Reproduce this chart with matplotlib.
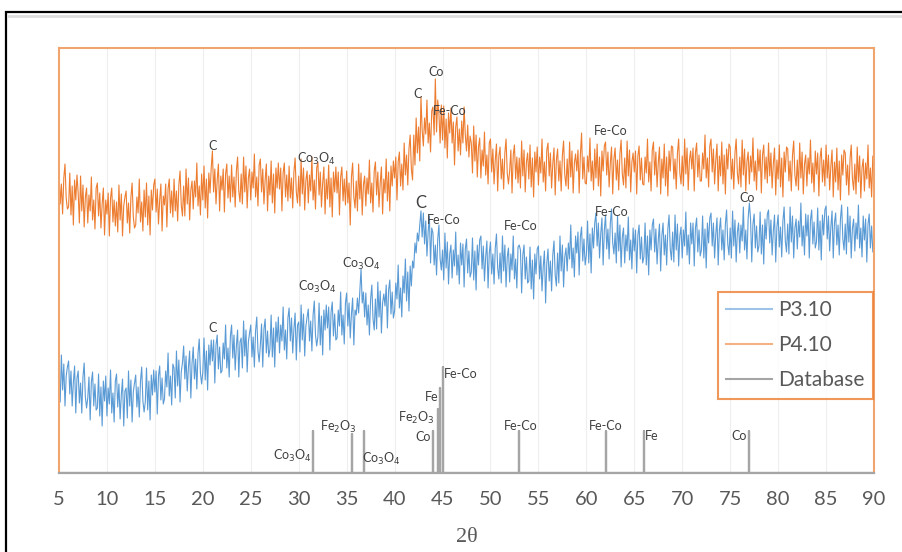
import numpy as np
import matplotlib.pyplot as plt
from matplotlib.lines import Line2D
from matplotlib.patches import Rectangle

# 2theta grid: 5 .. 90 deg, step 0.125
two_theta = np.arange(5, 90.001, 0.125)

# P4.10 (orange), arbitrary units, 8 readings per degree (one row per degree)
p410 = [
    301, 269, 289, 259, 295, 309, 275, 264,   # 5
    266, 300, 258, 287, 248, 293, 273, 298,
    280, 250, 297, 262, 288, 246, 276, 285,
    250, 278, 262, 296, 253, 273, 244, 285,
    290, 257, 280, 245, 269, 285, 238, 273,
    259, 280, 237, 275, 285, 251, 273, 247,   # 10
    271, 241, 288, 253, 279, 237, 267, 276,
    282, 250, 270, 240, 276, 290, 256, 245,
    248, 276, 260, 294, 251, 271, 242, 283,
    256, 290, 248, 277, 238, 283, 263, 288,
    294, 261, 284, 249, 273, 289, 242, 277,   # 15
    268, 289, 246, 284, 294, 260, 282, 256,
    294, 262, 282, 252, 288, 302, 268, 257,
    287, 257, 304, 269, 295, 253, 283, 292,
    264, 292, 276, 310, 267, 287, 258, 299,
    273, 307, 265, 294, 255, 300, 280, 305,   # 20
    322, 281, 304, 269, 293, 309, 262, 297,
    283, 304, 261, 299, 309, 275, 297, 271,
    308, 276, 296, 266, 302, 316, 282, 271,
    299, 269, 316, 281, 307, 265, 295, 304,
    273, 301, 285, 319, 276, 296, 267, 308,   # 25
    314, 281, 304, 269, 293, 309, 262, 297,
    278, 312, 270, 299, 260, 305, 285, 310,
    284, 305, 262, 300, 310, 276, 298, 272,
    307, 275, 295, 265, 301, 315, 281, 270,
    297, 267, 314, 279, 305, 263, 293, 302,   # 30
    270, 298, 282, 316, 273, 293, 264, 305,
    311, 278, 301, 266, 290, 306, 259, 294,
    274, 308, 266, 295, 256, 301, 281, 306,
    280, 301, 258, 296, 306, 272, 294, 268,
    302, 270, 290, 248, 296, 310, 276, 265,   # 35
    292, 262, 309, 274, 300, 258, 288, 297,
    267, 295, 279, 313, 270, 290, 261, 302,
    311, 278, 301, 266, 290, 306, 259, 294,
    280, 314, 272, 301, 262, 307, 287, 312,
    295, 316, 273, 311, 321, 287, 309, 283,   # 40
    330, 298, 318, 288, 324, 338, 304, 293,
    338, 308, 355, 320, 346, 312, 376, 343,
    327, 355, 339, 373, 330, 350, 321, 362,
    366, 338, 394, 341, 373, 359, 330, 368,
    333, 367, 325, 354, 315, 360, 340, 365,   # 45
    330, 351, 308, 346, 356, 322, 344, 318,
    352, 330, 366, 338, 322, 348, 316, 337,
    330, 300, 347, 312, 338, 296, 326, 335,
    295, 323, 307, 341, 298, 318, 289, 330,
    334, 301, 324, 289, 313, 329, 282, 317,   # 50
    326, 294, 314, 284, 320, 334, 300, 289,
    302, 323, 280, 318, 328, 294, 316, 290,
    315, 285, 332, 297, 323, 281, 311, 320,
    294, 328, 286, 315, 276, 321, 301, 326,
    288, 316, 300, 334, 291, 311, 282, 323,   # 55
    330, 297, 320, 285, 309, 325, 278, 313,
    324, 292, 312, 282, 318, 332, 298, 287,
    314, 284, 331, 296, 322, 280, 310, 319,
    302, 323, 280, 318, 340, 294, 316, 290,
    289, 317, 301, 335, 292, 312, 283, 324,   # 60
    295, 329, 287, 316, 277, 322, 302, 327,
    331, 298, 321, 286, 310, 326, 279, 314,
    325, 293, 313, 283, 319, 333, 299, 288,
    315, 285, 332, 297, 323, 281, 311, 320,
    301, 322, 279, 317, 327, 293, 315, 289,   # 65
    288, 316, 300, 334, 291, 311, 282, 323,
    331, 298, 321, 286, 310, 326, 279, 314,
    295, 329, 287, 316, 277, 322, 302, 327,
    326, 294, 314, 284, 320, 334, 300, 289,
    317, 287, 334, 299, 325, 283, 313, 322,   # 70
    304, 325, 282, 320, 330, 296, 318, 292,
    292, 320, 304, 338, 295, 315, 286, 327,
    334, 301, 324, 289, 313, 329, 282, 317,
    297, 331, 289, 318, 279, 324, 304, 329,
    326, 294, 314, 284, 320, 334, 300, 289,   # 75
    316, 286, 333, 298, 324, 282, 312, 321,
    289, 317, 301, 335, 292, 312, 283, 324,
    302, 323, 280, 318, 328, 294, 316, 290,
    330, 297, 320, 285, 309, 325, 278, 313,
    294, 328, 286, 315, 276, 321, 301, 326,   # 80
    324, 292, 312, 282, 318, 332, 298, 287,
    313, 283, 330, 295, 321, 279, 309, 318,
    287, 315, 299, 333, 290, 310, 281, 322,
    299, 320, 277, 315, 325, 291, 313, 287,
    328, 295, 318, 283, 307, 323, 276, 311,   # 85
    291, 325, 283, 312, 273, 318, 298, 323,
    320, 288, 308, 278, 314, 328, 294, 283,
    309, 279, 326, 291, 317, 275, 305, 314,
    282, 310, 294, 328, 285, 305, 276, 317,
    296,                                      # 90
]

# P3.10 (blue)
p310 = [
    101, 71, 118, 83, 109, 67, 97, 106,        # 5
    112, 79, 102, 67, 91, 107, 60, 95,
    102, 70, 90, 60, 96, 110, 76, 65,
    75, 96, 53, 91, 101, 67, 89, 63,
    65, 99, 57, 86, 47, 92, 72, 97,
    57, 85, 69, 103, 60, 80, 51, 92,           # 10
    99, 66, 89, 54, 78, 94, 47, 82,
    85, 55, 102, 67, 93, 51, 81, 90,
    98, 66, 86, 56, 92, 106, 72, 61,
    71, 105, 63, 92, 53, 98, 78, 103,
    81, 102, 59, 97, 107, 73, 95, 69,          # 15
    74, 102, 86, 120, 77, 97, 68, 109,
    105, 75, 122, 87, 113, 71, 101, 110,
    127, 94, 117, 82, 106, 122, 75, 110,
    126, 94, 114, 84, 120, 134, 100, 89,
    101, 135, 93, 122, 83, 128, 108, 133,      # 20
    112, 133, 90, 128, 138, 104, 126, 100,
    102, 130, 114, 148, 105, 125, 96, 137,
    148, 115, 138, 103, 127, 143, 96, 131,
    135, 105, 152, 117, 143, 101, 131, 140,
    148, 116, 136, 106, 142, 156, 122, 111,    # 25
    128, 149, 106, 144, 154, 120, 142, 116,
    124, 158, 116, 145, 106, 151, 131, 156,
    120, 148, 132, 166, 123, 143, 114, 155,
    165, 132, 155, 120, 144, 160, 113, 148,
    151, 121, 168, 133, 159, 117, 147, 156,    # 30
    164, 132, 152, 122, 158, 172, 138, 127,
    136, 170, 128, 157, 118, 163, 143, 168,
    145, 166, 123, 161, 171, 137, 159, 133,
    135, 163, 147, 181, 138, 158, 129, 170,
    180, 147, 170, 135, 159, 175, 128, 163,    # 35
    158, 175, 160, 182, 204, 170, 181, 156,
    180, 148, 168, 138, 174, 188, 154, 143,
    174, 144, 191, 156, 182, 140, 170, 179,
    167, 188, 145, 183, 193, 159, 181, 155,
    162, 190, 174, 208, 165, 185, 156, 197,    # 40
    180, 214, 172, 201, 162, 207, 187, 212,
    205, 230, 220, 240, 232, 248, 262, 236,
    260, 229, 252, 217, 241, 257, 210, 245,
    240, 208, 228, 198, 234, 248, 214, 203,
    223, 193, 240, 205, 231, 189, 219, 228,    # 45
    195, 223, 207, 241, 198, 218, 189, 230,
    208, 229, 186, 224, 234, 200, 222, 196,
    201, 235, 193, 222, 183, 228, 208, 233,
    237, 204, 227, 192, 216, 232, 185, 220,
    231, 199, 219, 189, 225, 239, 205, 194,    # 50
    220, 190, 237, 202, 228, 186, 216, 225,
    191, 219, 203, 237, 194, 214, 185, 226,
    228, 223, 180, 218, 228, 194, 216, 190,
    192, 226, 184, 213, 174, 219, 199, 224,
    227, 194, 217, 182, 206, 222, 170, 210,    # 55
    224, 192, 212, 182, 218, 232, 198, 187,
    220, 190, 237, 202, 228, 186, 216, 225,
    202, 230, 214, 248, 205, 225, 196, 237,
    220, 241, 198, 236, 246, 212, 234, 208,
    218, 252, 210, 239, 200, 245, 225, 250,    # 60
    260, 227, 250, 215, 239, 255, 208, 243,
    258, 224, 244, 214, 250, 264, 230, 219,
    240, 210, 257, 222, 248, 206, 236, 245,
    210, 238, 222, 256, 213, 233, 204, 245,
    222, 243, 200, 238, 248, 214, 236, 210,    # 65
    216, 250, 208, 237, 198, 243, 223, 248,
    254, 221, 244, 209, 233, 249, 202, 237,
    250, 218, 238, 208, 244, 258, 224, 213,
    241, 211, 258, 223, 249, 207, 237, 246,
    215, 243, 227, 261, 218, 238, 209, 250,    # 70
    229, 250, 207, 245, 255, 221, 243, 217,
    223, 257, 215, 244, 205, 250, 230, 255,
    260, 227, 250, 215, 239, 255, 208, 243,
    255, 223, 243, 213, 249, 263, 229, 218,
    245, 215, 262, 227, 253, 211, 241, 250,    # 75
    220, 248, 232, 266, 223, 243, 214, 255,
    270, 254, 211, 249, 259, 225, 247, 221,
    227, 261, 219, 248, 209, 254, 234, 259,
    263, 230, 253, 218, 242, 258, 211, 246,
    258, 226, 246, 216, 252, 266, 232, 221,    # 80
    249, 219, 266, 231, 257, 215, 245, 254,
    224, 252, 236, 270, 227, 247, 218, 259,
    237, 258, 215, 253, 263, 229, 251, 225,
    231, 265, 223, 252, 213, 258, 238, 263,
    267, 234, 257, 222, 246, 262, 215, 250,    # 85
    260, 228, 248, 218, 254, 268, 234, 223,
    249, 219, 266, 231, 257, 215, 245, 254,
    222, 250, 234, 268, 225, 245, 216, 257,
    233, 254, 211, 249, 259, 225, 247, 221,
    236,                                       # 90
]

# database reference peaks
db_pos = [31.5, 35.6, 36.8, 44.0, 44.5, 44.75, 45.0, 53.0, 62.0, 66.0, 77.0]
db_int = [42, 39, 42, 42, 64, 85, 106, 42, 42, 42, 42]

# stick lines as one series
db_x = [5]
db_y = [0]
for p, h in zip(db_pos, db_int):
    db_x += [p, p, p]
    db_y += [0, h, 0]
db_x.append(90)
db_y.append(0)

lab_orange = [("C", 21.0, 327), ("Co$_3$O$_4$", 31.8, 314), ("C", 42.4, 379),
              ("Co", 44.3, 401), ("Fe-Co", 45.7, 362), ("Fe-Co", 62.5, 342)]
lab_blue = [("Fe-Co", 45.15, 253), ("Co$_3$O$_4$", 36.5, 209),
            ("Co$_3$O$_4$", 31.9, 186), ("C", 21.05, 145), ("Fe-Co", 53.15, 247),
            ("Fe-Co", 62.6, 261), ("Co", 76.8, 275)]
lab_db = [("Co$_3$O$_4$", 29.3, 17), ("Fe$_2$O$_3$", 34.1, 46), ("Co$_3$O$_4$", 38.65, 14),
          ("Co", 42.95, 36), ("Fe$_2$O$_3$", 42.25, 55), ("Fe", 43.9, 76),
          ("Fe-Co", 46.9, 99), ("Fe-Co", 53.1, 47), ("Fe-Co", 62.05, 47),
          ("Fe", 66.85, 37), ("Co", 75.95, 37)]

BLUE = '#5B9BD5'
ORANGE = '#ED7D31'
GREY = '#A5A5A5'

plt.rcParams['font.family'] = ['Lato', 'DejaVu Sans']

fig = plt.figure(figsize=(9.03, 5.52), dpi=100)
ax = fig.add_axes([59/903, 79/552, 815/903, 425/552])

ax.plot(two_theta, p310, color=BLUE, lw=0.8)
ax.plot(two_theta, p410, color=ORANGE, lw=0.8)
ax.plot(db_x, db_y, color=GREY, lw=1.6)

ax.set_xlim(5, 90)
ax.set_ylim(0, 425)
ax.set_xticks(np.arange(5, 91, 5))
ax.set_yticks([])
ax.grid(axis='x', color='#EEEEEE', lw=0.8)
ax.set_axisbelow(True)
ax.tick_params(axis='x', length=0, pad=13, labelsize=14.5, labelcolor='#595959')

for s in ['left', 'top', 'right']:
    ax.spines[s].set_color('#F0A56E')
    ax.spines[s].set_linewidth(1.5)
ax.spines['bottom'].set_color(GREY)
ax.spines['bottom'].set_linewidth(1.6)

for t, x, y in lab_orange + lab_blue:
    ax.text(x, y, t, ha='center', va='center', fontsize=9, color='#404040')
ax.text(42.76, 270, "C", ha='center', va='center', fontsize=12, color='#404040')
for t, x, y in lab_db:
    ax.text(x, y, t, ha='center', va='center', fontsize=9, color='#404040')

handles = [Line2D([], [], color='#9DC3E6', lw=1.5),
           Line2D([], [], color='#F4B183', lw=1.5),
           Line2D([], [], color=GREY, lw=1.5)]
leg = ax.legend(handles, ['P3.10', 'P4.10', 'Database'], loc='upper left',
                bbox_to_anchor=(0.808, 0.426), borderaxespad=0, fontsize=15,
                frameon=True, fancybox=False, handlelength=2.2, handletextpad=0.3,
                labelspacing=0.72, borderpad=0.4)
leg.get_frame().set_edgecolor(ORANGE)
leg.get_frame().set_linewidth(1.5)
for txt in leg.get_texts():
    txt.set_color('#595959')

fig.text(467/903, 1 - 537/552, "2θ", ha='center', va='center', fontsize=16,
         color='#595959', family='Liberation Serif')

# outer chart frame
fig.patches.append(Rectangle((6/903, -0.2), 1.2, 1.2 + (552-12)/552 - 1, transform=fig.transFigure,
                             fill=False, edgecolor='black', lw=1.6))
fig.lines.append(Line2D([9/903, 1], [1 - 16/552, 1 - 16/552], transform=fig.transFigure,
                        color='#DDDDDD', lw=2))

fig.savefig('out.png', dpi=100)
